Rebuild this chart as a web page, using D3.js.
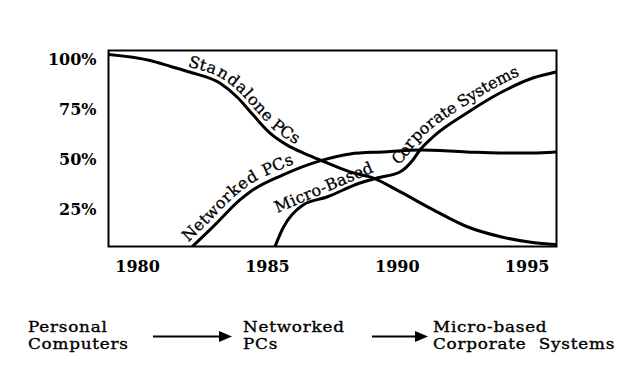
<!DOCTYPE html>
<html><head><meta charset="utf-8">
<script src="https://cdn.jsdelivr.net/npm/d3@7"></script>
<style>body{margin:0;background:#fff}svg{display:block}</style>
</head><body><svg id="c" width="640" height="379"></svg>
<script>
// ---- data ----
const xTicks = [1980, 1985, 1990, 1995];
const yTicks = [25, 50, 75, 100];
const yTickLabels = ["25%", "50%", "75%", "100%"];

const standaloneYears = [1978.9, 1980.5, 1981.3, 1982.05, 1983.2, 1983.86, 1984.47, 1985.12, 1985.78, 1986.39, 1987.04, 1988.2, 1989.08, 1990.12, 1991.39, 1992.69, 1993.96, 1995.23, 1996.11];
const standaloneShare = [102.5, 99.5, 96.5, 93.6, 88.1, 81.1, 72.2, 63.2, 57.2, 53.3, 49.8, 43.8, 40.8, 33.9, 24.9, 16.5, 11.5, 8.5, 7.5];

const networkedYears = [1982.13, 1982.93, 1983.97, 1984.36, 1985.62, 1987.04, 1988.2, 1989.46, 1990.89, 1992.69, 1993.96, 1995.23, 1996.11];
const networkedShare = [6.5, 16.45, 29.9, 33.9, 42.3, 49.3, 52.8, 53.8, 54.75, 53.8, 53.3, 53.3, 53.8];

const microYears = [1985.31, 1985.62, 1986.39, 1987.31, 1988.58, 1989.24, 1990.12, 1990.62, 1990.89, 1991.39, 1992.7, 1993.97, 1995.24, 1996.13];
const microShare = [6.5, 15.75, 27.25, 31.25, 38.25, 40.75, 43.75, 49.75, 54.75, 61.25, 73.25, 83.25, 90.75, 93.75];

const seriesLabels = ["Standalone PCs", "Networked PCs", "Micro-Based", "Corporate Systems"];
const stageLines = [["Personal", "Computers"], ["Networked", "PCs"], ["Micro-based", "Corporate  Systems"]];

// ---- layout ----
const W = 640, H = 379;
const L = 108.5, R = 556.5, T = 50.5, B = 246.5;
const svg = d3.select("#c");
svg.append("rect").attr("width", W).attr("height", H).attr("fill", "#fff");

const x = d3.scaleLinear().domain([1978.9, 1996.15]).range([L, R]);
const y = d3.scaleLinear().domain([6.5, 104.5]).range([B, T]);

svg.append("defs").append("clipPath").attr("id", "plot")
  .append("rect").attr("x", L).attr("y", T).attr("width", R - L).attr("height", B - T);

const serif = "'DejaVu Serif', serif";

// axes (labels only, no tick marks)
const xAxis = svg.append("g").attr("transform", `translate(0,${B})`)
  .call(d3.axisBottom(x).tickValues(xTicks).tickFormat(d3.format("d")).tickSize(0).tickPadding(20));
xAxis.select(".domain").remove();
xAxis.selectAll("text").attr("font-family", serif).attr("font-weight", "bold").attr("font-size", 16).attr("fill", "#000").attr("dy", "0").attr("y", 25.5);

const yAxis = svg.append("g").attr("transform", `translate(${L},0)`)
  .call(d3.axisLeft(y).tickValues(yTicks).tickFormat((d, i) => yTickLabels[i]).tickSize(0).tickPadding(12));
yAxis.select(".domain").remove();
yAxis.selectAll("text").attr("font-family", serif).attr("font-weight", "bold").attr("font-size", 16).attr("fill", "#000");

// frame
svg.append("rect").attr("x", L).attr("y", T).attr("width", R - L).attr("height", B - T)
  .attr("fill", "none").attr("stroke", "#000").attr("stroke-width", 2);

const line = d3.line().x(d => x(d[0])).y(d => y(d[1])).curve(d3.curveMonotoneX);
const series = [
  d3.zip(standaloneYears, standaloneShare),
  d3.zip(networkedYears, networkedShare),
  d3.zip(microYears, microShare)
];
const g = svg.append("g").attr("clip-path", "url(#plot)");
const paths = series.map((s, i) => g.append("path").attr("id", "s" + i).attr("d", line(s))
  .attr("fill", "none").attr("stroke", "#000").attr("stroke-width", 3).attr("stroke-linecap", "round"));

function offsetAtX(pathSel, px) {
  const node = pathSel.node(), len = node.getTotalLength();
  let lo = 0, hi = len;
  for (let k = 0; k < 40; k++) { const m = (lo + hi) / 2; if (node.getPointAtLength(m).x < px) lo = m; else hi = m; }
  return lo;
}

// curve labels that follow their line
const labelSpecs = [
  { p: 0, text: seriesLabels[0], startX: 186, dy: -5, ls: 0.6 },
  { p: 1, text: seriesLabels[1], startX: 190, dy: -6, ls: 0.4 },
  { p: 2, text: seriesLabels[3], startX: 403, dy: -7, ls: -0.3 }
];
labelSpecs.forEach(s => {
  svg.append("text").attr("font-family", serif).attr("font-size", 16).attr("fill", "#000")
    .attr("stroke", "#000").attr("stroke-width", 0.3)
    .attr("dy", s.dy).attr("letter-spacing", s.ls)
    .append("textPath").attr("href", "#s" + s.p).attr("startOffset", offsetAtX(paths[s.p], s.startX)).text(s.text);
});
// "Micro-Based" runs nearly straight above the rising part of its line
svg.append("text").attr("font-family", serif).attr("font-size", 16).attr("fill", "#000").attr("letter-spacing", 0.3)
  .attr("stroke", "#000").attr("stroke-width", 0.3)
  .attr("transform", `translate(${x(1985.4)},${y(23.3)}) rotate(-23)`).text(seriesLabels[2]);

// bottom stage diagram
const stageX = [28, 243, 433];
stageLines.forEach((lines, i) => {
  lines.forEach((ln, j) => {
    svg.append("text").attr("font-family", serif).attr("font-size", 15).attr("fill", "#000")
      .attr("stroke", "#000").attr("stroke-width", 0.35)
      .attr("letter-spacing", 0.7).style("white-space", "pre")
      .attr("transform", `translate(${stageX[i]},${331.5 + j * 17.5}) scale(1.12,1)`).text(ln);
  });
});
const arrows = [[153, 232], [372, 428]];
arrows.forEach(([a, b]) => {
  svg.append("line").attr("x1", a).attr("x2", b - 10).attr("y1", 336.5).attr("y2", 336.5).attr("stroke", "#000").attr("stroke-width", 2);
  svg.append("path").attr("d", `M${b},336.5 L${b - 13},331 L${b - 13},342 Z`).attr("fill", "#000");
});
</script></body></html>
